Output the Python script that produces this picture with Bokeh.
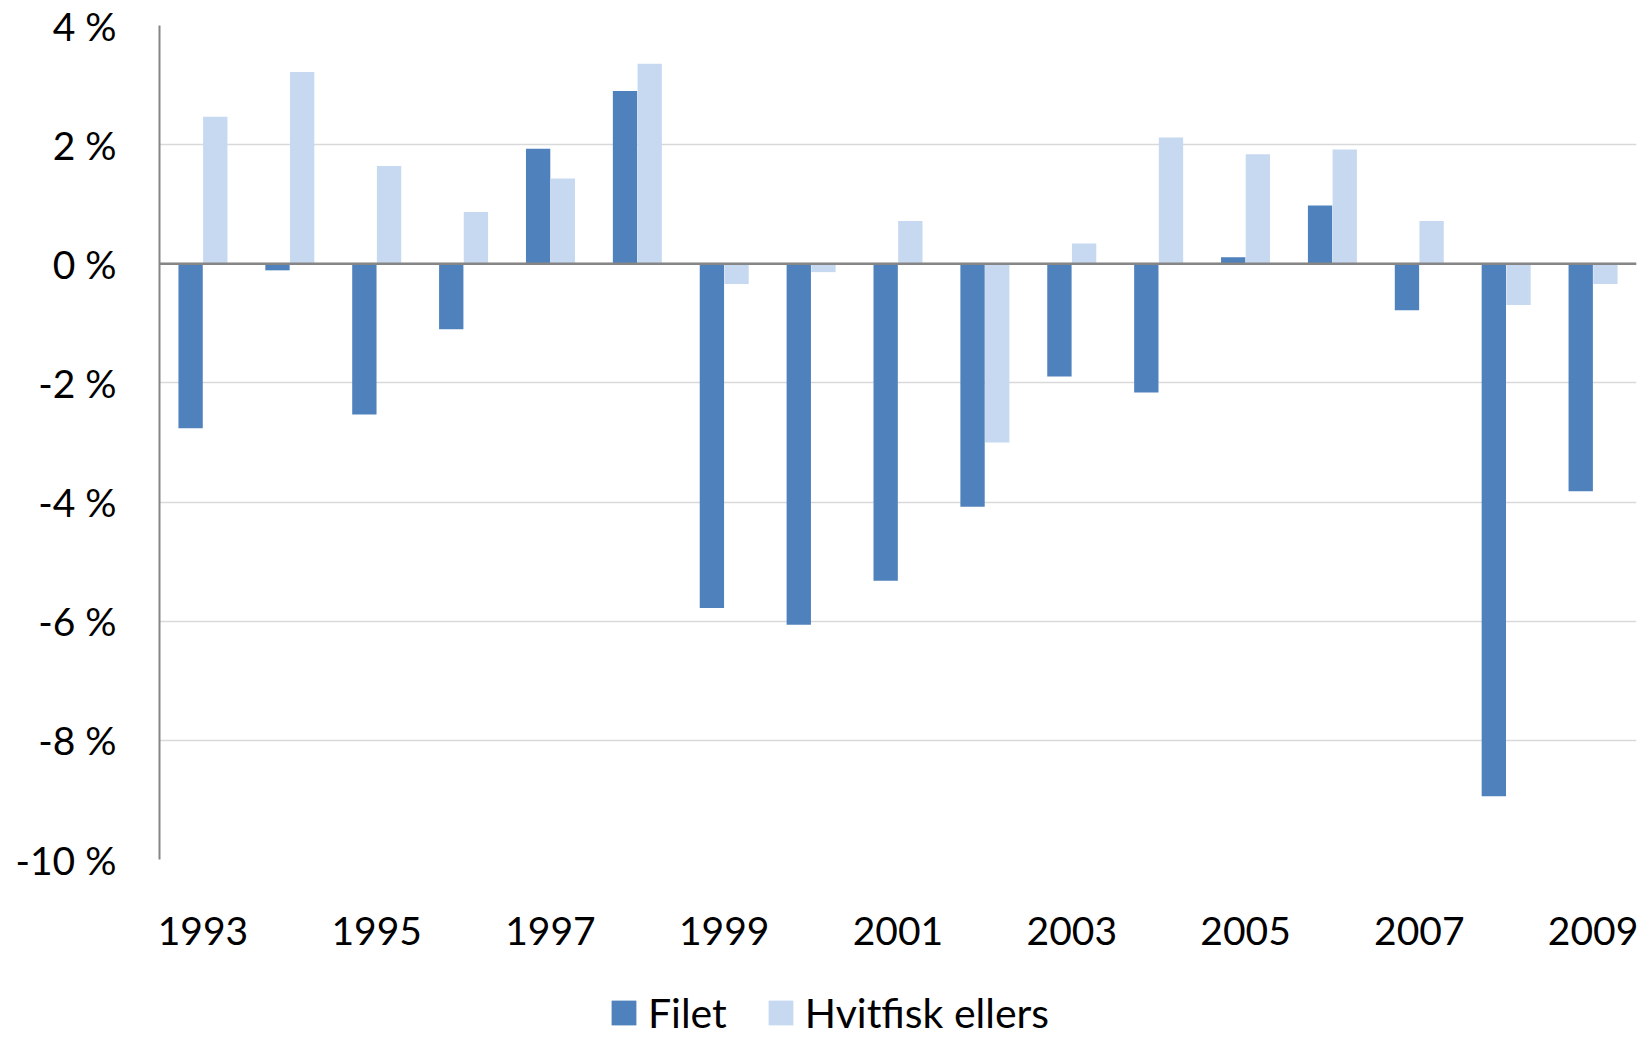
from bokeh.plotting import figure
from bokeh.layouts import column
from bokeh.models import (Range1d, FixedTicker, PrintfTickFormatter, Span, Legend,
                          LegendItem, ColumnDataSource)
from bokeh.transform import dodge
from bokeh.embed import file_html
from bokeh.resources import INLINE

years = list(range(1993, 2010))
filet = [-2.76, -0.11, -2.53, -1.10, 1.93, 2.90, -5.78, -6.06, -5.32, -4.08,
         -1.89, -2.16, 0.11, 0.98, -0.78, -8.94, -3.82]
hvitfisk = [2.47, 3.22, 1.64, 0.87, 1.43, 3.36, -0.34, -0.14, 0.72, -3.00,
            0.34, 2.12, 1.84, 1.92, 0.72, -0.69, -0.34]
x_tick_years = [1993, 1995, 1997, 1999, 2001, 2003, 2005, 2007, 2009]
y_ticks = [-10, -8, -6, -4, -2, 0, 2, 4]
series_names = ["Filet", "Hvitfisk ellers"]

FONT = "Lato"
DARK = "#4F81BD"
LIGHT = "#C6D9F1"
W = 1640

src = ColumnDataSource(dict(year=years, filet=filet, hvitfisk=hvitfisk))

p = figure(width=W, height=959, output_backend="svg", toolbar_location=None,
           x_range=Range1d(1992.5, 2009.5), y_range=Range1d(-10, 4),
           min_border_left=159, min_border_right=4, min_border_top=25,
           min_border_bottom=100)

p.vbar(x=dodge('year', -0.142), top='filet', bottom=0, width=0.28,
       source=src, fill_color=DARK, line_color=None)
p.vbar(x=dodge('year', 0.142), top='hvitfisk', bottom=0, width=0.28,
       source=src, fill_color=LIGHT, line_color=None)

p.add_layout(Span(location=0, dimension="width", line_color="#868686", line_width=2.5))

p.outline_line_color = None
p.xgrid.grid_line_color = None
p.ygrid.grid_line_color = "#D9D9D9"
p.ygrid.grid_line_width = 1.5
p.ygrid.ticker = FixedTicker(ticks=y_ticks)

p.yaxis.ticker = FixedTicker(ticks=y_ticks)
p.yaxis.formatter = PrintfTickFormatter(format="%d %%")
p.yaxis.axis_line_color = "#868686"
p.yaxis.axis_line_width = 2
p.yaxis.major_tick_line_color = None
p.yaxis.minor_tick_line_color = None
p.yaxis.major_label_text_font = FONT
p.yaxis.major_label_text_font_size = "39px"
p.yaxis.major_label_text_color = "black"
p.yaxis.major_label_standoff = 37

p.xaxis.ticker = FixedTicker(ticks=x_tick_years)
p.xaxis.axis_line_color = None
p.xaxis.major_tick_line_color = None
p.xaxis.minor_tick_line_color = None
p.xaxis.major_label_text_font = FONT
p.xaxis.major_label_text_font_size = "39px"
p.xaxis.major_label_text_color = "black"
p.xaxis.major_label_standoff = 51

# legend strip: renderers share the bar data but lie outside this strip's y-range
lg = figure(width=W, height=78, output_backend="svg", toolbar_location=None,
            x_range=Range1d(1992.5, 2009.5), y_range=Range1d(100, 101),
            min_border_left=159, min_border_right=4, min_border_top=0, min_border_bottom=0)
lg.axis.visible = False
lg.grid.grid_line_color = None
lg.outline_line_color = None
l1 = lg.vbar(x='year', top='filet', bottom=0, width=0.28, source=src,
             fill_color=DARK, line_color=None)
l2 = lg.vbar(x='year', top='hvitfisk', bottom=0, width=0.28, source=src,
             fill_color=LIGHT, line_color=None)
legend = Legend(items=[LegendItem(label=series_names[0], renderers=[l1]),
                       LegendItem(label=series_names[1], renderers=[l2])],
                orientation="horizontal", location=(449, 0),
                label_text_font=FONT, label_text_font_size="41px",
                label_text_color="black",
                glyph_width=31, glyph_height=31, label_standoff=9, spacing=38,
                border_line_color=None, background_fill_alpha=0,
                padding=0, margin=0)
lg.add_layout(legend, "center")

layout = column(p, lg, spacing=0)
open("out.html", "w").write(file_html(layout, INLINE))
